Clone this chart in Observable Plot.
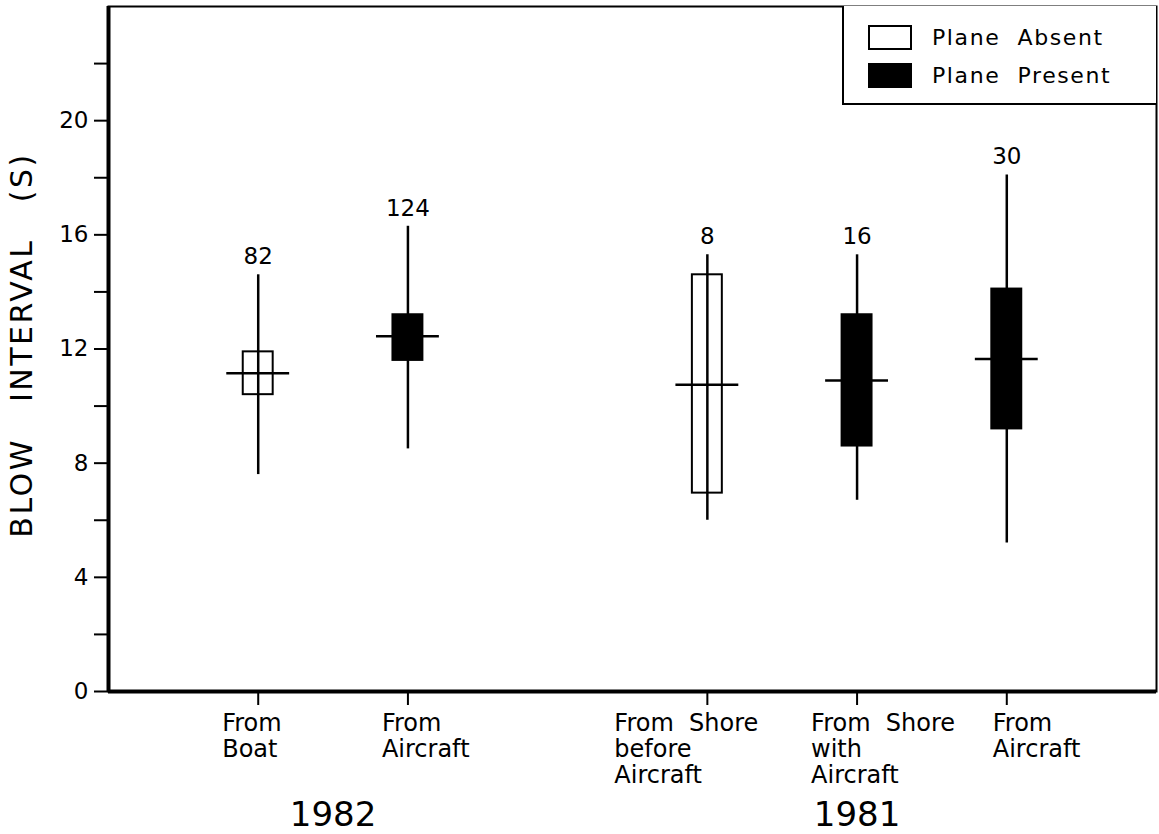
<!DOCTYPE html>
<html>
<head>
<meta charset="utf-8">
<script src="https://cdn.jsdelivr.net/npm/d3@7"></script>
<script src="https://cdn.jsdelivr.net/npm/@observablehq/plot@0.6"></script>
<style>
  body { margin: 0; background: #fff; }
  #chart { position: relative; width: 1159px; height: 834px; font-family: "DejaVu Sans", sans-serif; }
  #chart svg text { white-space: pre; }
  .legend {
    position: absolute; left: 842px; top: 6px; width: 312px; height: 97px;
    border-left: 2px solid #000; border-bottom: 2px solid #000; background: #fff;
  }
  .legend .item { position: absolute; left: 24px; height: 25px; display: flex; align-items: center; }
  .legend .swatch { width: 40px; height: 21px; border: 2px solid #000; box-sizing: content-box; }
  .legend .label { margin-left: 20px; font-size: 22px; letter-spacing: 1.6px; white-space: pre; color: #000; }
</style>
</head>
<body>
<div id="chart"></div>
<script>
// Blow intervals of whales, by observation platform and year
const categories = ["From\nBoat", "From\nAircraft", "From  Shore\nbefore\nAircraft", "From  Shore\nwith\nAircraft", "From\nAircraft"];
const slots = [1, 2, 4, 5, 6];               // slot 3 is left empty between the two years
const years = ["1982", "1982", "1981", "1981", "1981"];
const plane = ["Absent", "Present", "Absent", "Present", "Present"];
const whiskerLow  = [7.6, 8.5, 6.0, 6.7, 5.2];
const quartile1   = [10.4, 11.6, 6.95, 8.6, 9.2];
const median      = [11.15, 12.45, 10.75, 10.9, 11.65];
const quartile3   = [11.9, 13.2, 14.6, 13.2, 14.1];
const whiskerHigh = [14.6, 16.3, 15.3, 15.3, 18.1];
const sampleSize  = [82, 124, 8, 16, 30];
const yMajorTicks = [0, 4, 8, 12, 16, 20];
const yMinorTicks = [2, 6, 10, 14, 18, 22];
const yTitle = "BLOW   INTERVAL   (S)";
const legendItems = ["Plane  Absent", "Plane  Present"];

const rows = categories.map((c, i) => ({
  cat: c, slot: slots[i], year: years[i], plane: plane[i],
  lo: whiskerLow[i], q1: quartile1[i], med: median[i], q3: quartile3[i], hi: whiskerHigh[i],
  n: sampleSize[i]
}));

// one caption per year, centred under its group of boxes
const yearGroups = d3.groups(rows, d => d.year).map(([year, g]) => ({
  year, center: d3.mean(g, d => d.slot)
}));

const boxHalf = 0.1;      // half box width, in slot units
const medianHalf = 0.21;  // half length of the median bar
const labelNudge = [-36, -26, -93, -46, -14]; // hanging indents of the category captions

const captionMarks = rows.map((d, i) =>
  Plot.text([d], {
    x: "slot", text: "cat", frameAnchor: "bottom", dy: 21, dx: labelNudge[i],
    textAnchor: "start", lineAnchor: "top", lineHeight: 1.08, fontSize: 24
  })
);

const chart = Plot.plot({
  width: 1159, height: 834,
  marginLeft: 108, marginRight: 3, marginTop: 6, marginBottom: 143,
  x: { domain: [0, 7], axis: null },
  y: { domain: [0, 24], axis: null },
  style: { fontFamily: "DejaVu Sans, sans-serif", color: "#000", background: "#fff" },
  marks: [
    Plot.frame({ stroke: "#000", strokeWidth: 2 }),
    Plot.axisY({ ticks: yMajorTicks, tickSize: 14, tickPadding: 6, fontSize: 23, strokeWidth: 2, label: null }),
    Plot.axisY({ ticks: yMinorTicks, tickSize: 14, tickFormat: () => "", strokeWidth: 2, label: null }),
    Plot.axisX({ ticks: slots, tickSize: 14, tickFormat: () => "", strokeWidth: 2, label: null }),
    Plot.ruleX([0], { strokeWidth: 4 }),
    Plot.ruleY([0], { strokeWidth: 4 }),
    Plot.text([yTitle], {
      frameAnchor: "left", textAnchor: "middle", lineAnchor: "middle",
      rotate: -90, dx: -86, dy: -4, fontSize: 30
    }),
    // whiskers
    Plot.ruleX(rows, { x: "slot", y1: "lo", y2: "hi", strokeWidth: 2.5 }),
    // interquartile boxes
    Plot.rect(rows, {
      x1: d => d.slot - boxHalf, x2: d => d.slot + boxHalf, y1: "q1", y2: "q3",
      fill: d => d.plane === "Present" ? "#000" : "none", stroke: "#000", strokeWidth: 2
    }),
    // medians
    Plot.ruleY(rows, { y: "med", x1: d => d.slot - medianHalf, x2: d => d.slot + medianHalf, strokeWidth: 2.5 }),
    // sample sizes above the whiskers
    Plot.text(rows, { x: "slot", y: "hi", text: d => String(d.n), dy: -18, fontSize: 23 }),
    ...captionMarks,
    Plot.text(yearGroups, { x: "center", text: "year", frameAnchor: "bottom", lineAnchor: "middle", dy: 124, fontSize: 34 })
  ]
});

// widen the lettering of the axis title
d3.select(chart).selectAll("text")
  .filter(function () { return this.textContent === yTitle; })
  .style("letter-spacing", "2.5px");

const root = document.getElementById("chart");
root.appendChild(chart);

const legend = document.createElement("div");
legend.className = "legend";
legendItems.forEach((label, i) => {
  const item = document.createElement("div");
  item.className = "item";
  item.style.top = (19 + i * 38) + "px";
  const sw = document.createElement("div");
  sw.className = "swatch";
  sw.style.background = i === 0 ? "#fff" : "#000";
  const tx = document.createElement("span");
  tx.className = "label";
  tx.textContent = label;
  item.append(sw, tx);
  legend.appendChild(item);
});
root.appendChild(legend);
</script>
</body>
</html>
